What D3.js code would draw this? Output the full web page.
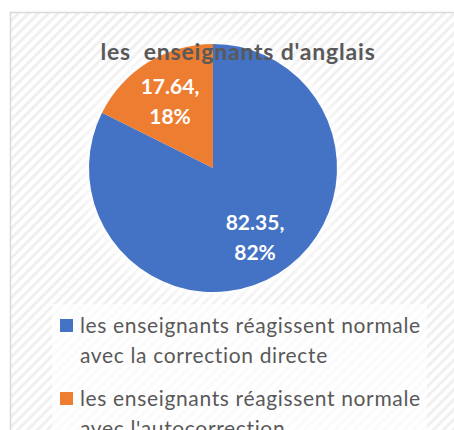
<!DOCTYPE html>
<html lang="fr">
<head>
<meta charset="UTF-8">
<title>les enseignants d'anglais</title>
<style>
  html, body { margin: 0; background: #fff; }
  text { font-family: Lato, "Open Sans", sans-serif; }
</style>
</head>
<body>
<svg id="chart" width="454" height="430" viewBox="0 0 454 430"></svg>
<script src="https://cdn.jsdelivr.net/npm/d3@7/dist/d3.min.js"></script>
<script>
const title = "les  enseignants d'anglais";
const categories = [
  ["les enseignants réagissent normale", "avec la correction directe"],
  ["les enseignants réagissent normale", "avec l'autocorrection"]
];
const values = [82.35, 17.64];
const percentLabels = ["82%", "18%"];
const colors = ["#4472C4", "#ED7D31"];

const svg = d3.select("#chart");
const defs = svg.append("defs");

// faint diagonal stripes on the chart area
const pat = defs.append("pattern")
    .attr("id", "stripes")
    .attr("width", 7).attr("height", 7)
    .attr("patternUnits", "userSpaceOnUse")
    .attr("patternTransform", "rotate(-45)");
pat.append("rect").attr("width", 7).attr("height", 7).attr("fill", "#fff");
pat.append("rect").attr("width", 7).attr("height", 3).attr("fill", "#f0f0f0");

const blur = defs.append("filter").attr("id", "glow")
    .attr("x", "-30%").attr("y", "-30%").attr("width", "160%").attr("height", "160%");
blur.append("feGaussianBlur").attr("stdDeviation", 8);

svg.append("rect")
    .attr("x", 10.5).attr("y", 12.5)
    .attr("width", 450).attr("height", 430)
    .attr("fill", "url(#stripes)")
    .attr("stroke", "#d9d9d9")
    .attr("stroke-width", 1.5);

const cx = 213, cy = 168, r = 124;

// soft halo behind pie and legend
svg.append("circle")
    .attr("cx", cx).attr("cy", cy).attr("r", r + 6)
    .attr("fill", "#fff").attr("opacity", 0.8)
    .attr("filter", "url(#glow)");
svg.append("rect")
    .attr("x", 52).attr("y", 304).attr("width", 375).attr("height", 140)
    .attr("fill", "#fff").attr("opacity", 0.7);

const pie = d3.pie().sort(null).value(d => d);
const arc = d3.arc().innerRadius(0).outerRadius(r);
const arcs = pie(values);

const g = svg.append("g").attr("transform", `translate(${cx},${cy})`);
g.selectAll("path.slice")
  .data(arcs)
  .join("path")
    .attr("class", "slice")
    .attr("d", arc)
    .attr("fill", (d, i) => colors[i]);

// data labels
const labelPos = [[42, 62], [-43, -74]];
arcs.forEach((d, i) => {
  const t = g.append("text")
      .attr("text-anchor", "middle")
      .attr("fill", "#fff")
      .attr("font-weight", "bold")
      .attr("font-size", 21);
  t.append("tspan").attr("x", labelPos[i][0]).attr("y", labelPos[i][1])
      .text(values[i] + ",");
  t.append("tspan").attr("x", labelPos[i][0]).attr("dy", 30)
      .text(percentLabels[i]);
});

svg.append("text")
    .attr("x", 238).attr("y", 60)
    .attr("text-anchor", "middle")
    .attr("font-size", 23)
    .attr("letter-spacing", 0.8)
    .attr("font-weight", "bold")
    .attr("fill", "#595959")
    .style("white-space", "pre")
    .text(title);

// legend
const leg = svg.append("g").attr("transform", "translate(60,0)");
categories.forEach((lines, i) => {
  const y0 = 333 + i * 73;
  leg.append("rect")
      .attr("x", 0).attr("y", y0 - 14)
      .attr("width", 13).attr("height", 13)
      .attr("fill", colors[i]);
  const t = leg.append("text")
      .attr("font-size", 21)
      .attr("letter-spacing", 0.65)
      .attr("fill", "#595959");
  lines.forEach((s, j) => {
    t.append("tspan").attr("x", 20).attr("y", y0 + j * 30).text(s);
  });
});
</script>
</body>
</html>
